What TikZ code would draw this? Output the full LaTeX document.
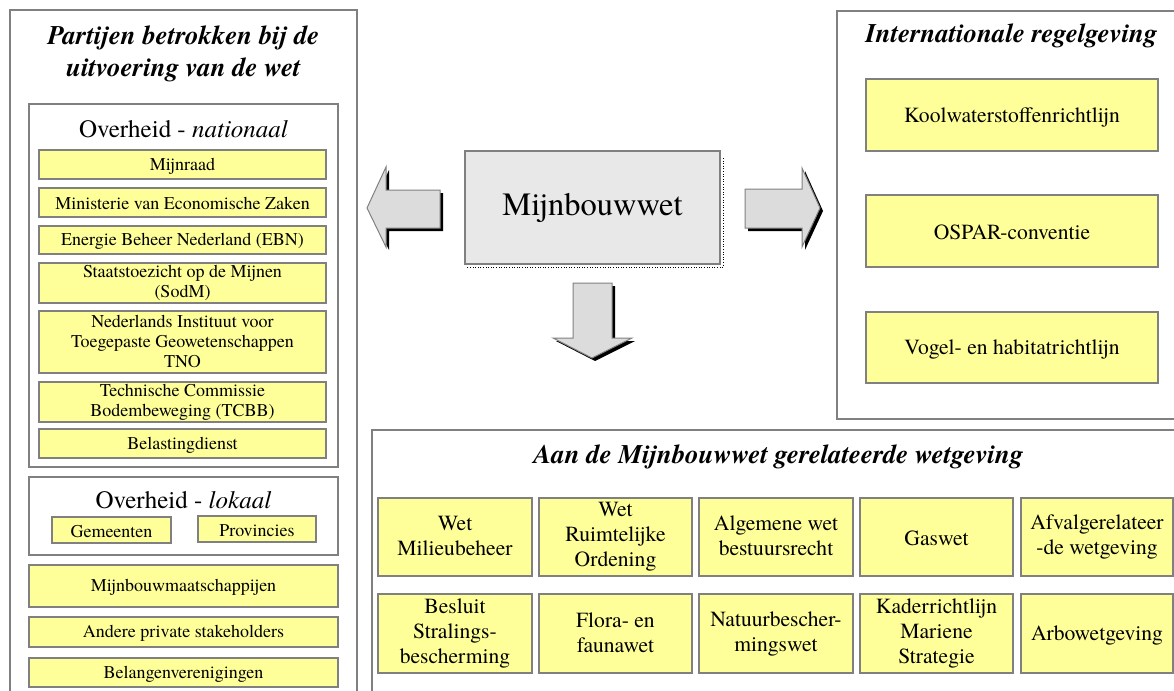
\documentclass[tikz,border=0pt]{standalone}
\usepackage{fontspec}
\setmainfont{TeX Gyre Termes}
\definecolor{ylw}{HTML}{FFFF99}
\definecolor{bgray}{HTML}{808080}
\definecolor{agray}{HTML}{DCDCDC}
\definecolor{cgray}{HTML}{E8E8E8}
\newcommand{\bx}[7]{\node[#1, minimum width={(#5-#3)*1pt}, minimum height={(#6-#4)*1pt}] (#2) at ({(#3+#5)/2},{(#4+#6)/2}) {#7};}
\newcommand{\st}{\rule[-0.1em]{0pt}{0.98em}}
\begin{document}
\begin{tikzpicture}[x=1pt,y=-1pt,
  panel/.style={draw=bgray, line width=1.8pt, fill=white, inner sep=0pt},
  ybox/.style={draw=bgray, line width=1.4pt, fill=ylw, align=center, inner sep=0pt,
    execute at begin node=\st, execute at end node=\st},
  lft/.style={ybox, font=\fontsize{18}{20}\selectfont},
  rgt/.style={ybox, font=\fontsize{21.6}{25}\selectfont},
  ttl/.style={font=\fontsize{26.8}{32}\selectfont\bfseries\itshape, align=center, inner sep=0pt},
  ovh/.style={font=\fontsize{25}{30}\selectfont, inner sep=0pt},
  barrow/.style={draw=bgray, line width=1pt, fill=agray, line join=miter},
  ashadow/.style={fill=black}
]
\useasboundingbox (0,0) rectangle (1174,690);
\clip (0,0) rectangle (1174,690);

% panels
\bx{panel}{leftpanel}{10}{10}{357}{720}{}
\bx{panel}{rightpanel}{837}{11}{1200}{419}{}
\bx{panel}{bottompanel}{372}{430}{1200}{720}{}
\bx{panel}{natpanel}{29}{104}{338}{467}{}
\bx{panel}{lokpanel}{29}{477}{338}{555}{}

% titles
\node[ttl, anchor=base] (lefttitle) at (183.5,45) {Partijen betrokken bij de};
\node[ttl, anchor=base] (lefttitle2) at (183.5,77) {uitvoering van de wet};
\node[ttl, anchor=base] (righttitle) at (1011.5,43) {Internationale regelgeving};
\node[ttl, anchor=base] (bottomtitle) at (778.5,463) {Aan de Mijnbouwwet gerelateerde wetgeving};
\node[ovh, anchor=base] (nattitle) at (183.5,137) {Overheid - \textit{nationaal}};
\node[ovh, anchor=base] (loktitle) at (183.5,508) {Overheid - \textit{lokaal}};

% left boxes
\bx{lft}{mijnraad}{39}{150}{326}{179}{Mijnraad}
\bx{lft}{ez}{39}{188}{326}{217}{Ministerie van Economische Zaken}
\bx{lft}{ebn}{39}{226}{326}{254}{Energie Beheer Nederland (EBN)}
\bx{lft}{sodm}{39}{263}{326}{303}{Staatstoezicht op de Mijnen\\(SodM)}
\bx{lft}{tno}{39}{311}{326}{373}{Nederlands Instituut voor\\Toegepaste Geowetenschappen\\TNO}
\bx{lft}{tcbb}{39}{382}{326}{422}{Technische Commissie\\Bodembeweging (TCBB)}
\bx{lft}{bel}{39}{429}{326}{458}{Belastingdienst}
\bx{lft}{gem}{52}{517}{171}{543}{Gemeenten}
\bx{lft}{prov}{198}{516}{316}{542}{Provincies}
\bx{lft}{mbm}{29}{565}{338}{607}{Mijnbouwmaatschappijen}
\bx{lft}{aps}{29}{617}{338}{647}{Andere private stakeholders}
\bx{lft}{bv}{29}{658}{338}{687}{Belangenverenigingen}

% right boxes
\bx{rgt}{kool}{866}{79}{1158}{151}{Koolwaterstoffenrichtlijn}
\bx{rgt}{ospar}{866}{195}{1158}{267}{OSPAR-conventie}
\bx{rgt}{vogel}{866}{312}{1158}{383}{Vogel- en habitatrichtlijn}

% bottom boxes
\bx{rgt}{wm}{378}{498}{532}{576}{Wet\\Milieubeheer}
\bx{rgt}{wro}{539}{498}{692}{576}{Wet\\Ruimtelijke\\Ordening}
\bx{rgt}{awb}{699}{498}{853}{576}{Algemene wet\\bestuursrecht}
\bx{rgt}{gas}{860}{498}{1013}{576}{Gaswet}
\bx{rgt}{afv}{1021}{498}{1173}{576}{Afvalgerelateer\\-de wetgeving}
\bx{rgt}{bss}{378}{594}{532}{673}{Besluit\\Stralings-\\bescherming}
\bx{rgt}{ffw}{539}{594}{692}{673}{Flora- en\\faunawet}
\bx{rgt}{nbw}{699}{594}{853}{673}{Natuurbescher-\\mingswet}
\bx{rgt}{krm}{860}{594}{1013}{673}{Kaderrichtlijn\\Mariene\\Strategie}
\bx{rgt}{arbo}{1021}{594}{1173}{673}{Arbowetgeving}

% central box
\draw[dotted, line width=0.6pt] (723,158) -- (723,267) -- (467,267);
\bx{draw=bgray, line width=1.4pt, fill=cgray, inner sep=0pt, font=\fontsize{32.5}{38}\selectfont}{mbw}{465}{151}{720}{264}{Mijnbouwwet}

% block arrows (shadow first)
\foreach \dx/\dy/\sty in {3/3/ashadow, 0/0/barrow} {
  \begin{scope}[shift={(\dx,\dy)}]
    \path[\sty] (367,208) -- (386,167) -- (386,190) -- (440,190) -- (440,228) -- (386,228) -- (386,247) -- cycle;
    \path[\sty] (745,189) -- (802,189) -- (802,168) -- (820,208) -- (802,247) -- (802,228) -- (745,228) -- cycle;
    \path[\sty] (573,283) -- (612,283) -- (612,338) -- (632,338) -- (592,358) -- (553,338) -- (573,338) -- cycle;
  \end{scope}
}
\end{tikzpicture}
\end{document}
